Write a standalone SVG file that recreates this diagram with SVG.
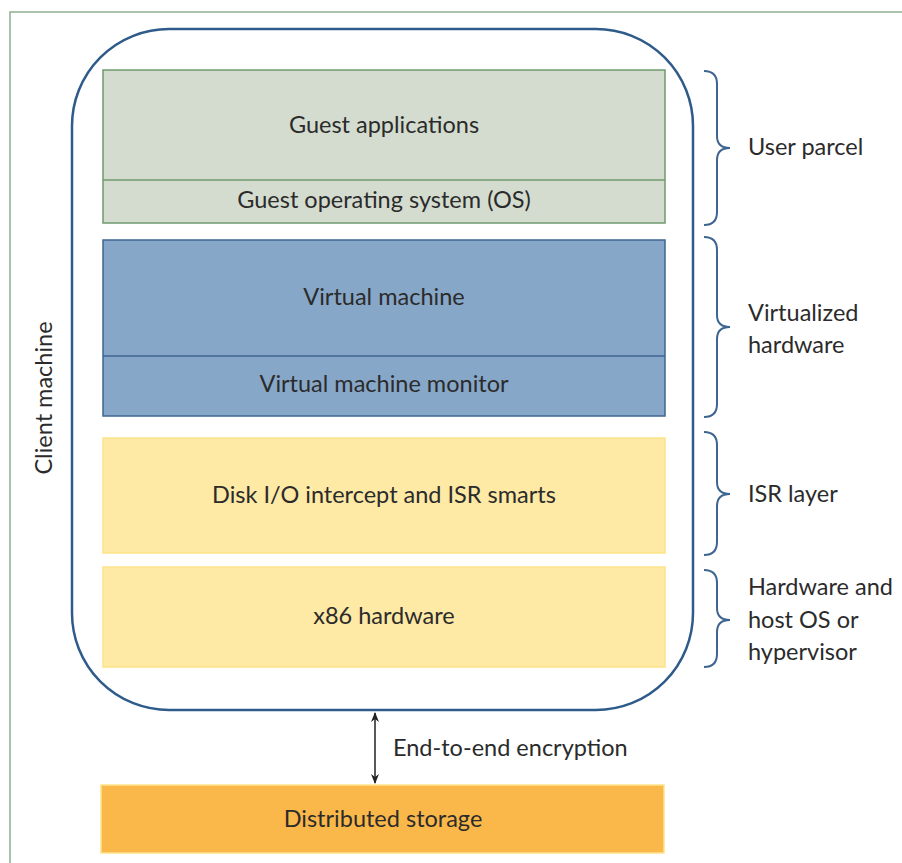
<svg xmlns="http://www.w3.org/2000/svg" width="902" height="863" viewBox="0 0 902 863">
<defs>
<style>
.t{font-family:Lato,"Liberation Sans",sans-serif;font-size:23.5px;fill:#2b2b2b}
.c{text-anchor:middle}
.br{fill:none;stroke:#3e6590;stroke-width:2}
.g{fill:#d4dccf;stroke:#6f9a6f;stroke-width:1.5}
.b{fill:#87a7c8;stroke:#3e6590;stroke-width:1.5}
.y{fill:#fee9a5;stroke:#fde38a;stroke-width:1.5}
</style>
<marker id="ah" viewBox="0 0 10 10" refX="9" refY="5" markerWidth="10" markerHeight="10" orient="auto-start-reverse" markerUnits="userSpaceOnUse">
<path d="M0,1 L10,5 L0,9 L3,5 Z" fill="#222"/>
</marker>
</defs>
<rect width="902" height="863" fill="#fff"/>
<path d="M10,863 V12 H902" fill="none" stroke="#8fae8f" stroke-width="1.5"/>
<g id="client">
<rect x="72" y="29" width="621" height="681" rx="97" ry="97" fill="none" stroke="#2f5b8a" stroke-width="2.5"/>
<text class="t c" transform="translate(52,398) rotate(-90)">Client machine</text>
</g>
<g id="guest">
<rect class="g" x="103" y="70" width="562" height="153"/>
<line x1="103" y1="180" x2="665" y2="180" stroke="#6f9a6f" stroke-width="1.5"/>
<text class="t c" x="384" y="133">Guest applications</text>
<text class="t c" x="384" y="208">Guest operating system (OS)</text>
</g>
<g id="vm">
<rect class="b" x="103" y="240" width="562" height="176"/>
<line x1="103" y1="356" x2="665" y2="356" stroke="#3e6590" stroke-width="1.5"/>
<text class="t c" x="384" y="305">Virtual machine</text>
<text class="t c" x="384" y="392">Virtual machine monitor</text>
</g>
<g id="isr">
<rect class="y" x="103" y="438" width="562" height="115"/>
<text class="t c" x="384" y="503">Disk I/O intercept and ISR smarts</text>
</g>
<g id="x86">
<rect class="y" x="103" y="567" width="562" height="100"/>
<text class="t c" x="384" y="624">x86 hardware</text>
</g>
<g id="storage">
<rect x="101" y="785" width="563" height="68" fill="#fbb84a" stroke="#fde38a" stroke-width="1.5"/>
<text class="t c" x="383" y="827">Distributed storage</text>
</g>
<g id="braces">
<path class="br" d="M704,71 Q717,71 717,84 V136 Q717,148 730,148 Q717,148 717,160 V212 Q717,225 704,225"/>
<path class="br" d="M704,237 Q717,237 717,250 V315 Q717,327 730,327 Q717,327 717,339 V404 Q717,417 704,417"/>
<path class="br" d="M704,432 Q717,432 717,445 V482 Q717,494 730,494 Q717,494 717,506 V542 Q717,555 704,555"/>
<path class="br" d="M704,570 Q717,570 717,583 V608 Q717,620 730,620 Q717,620 717,632 V654 Q717,667 704,667"/>
</g>
<g id="labels">
<text class="t" x="748" y="155">User parcel</text>
<text class="t" x="748" y="321">Virtualized</text>
<text class="t" x="748" y="353">hardware</text>
<text class="t" x="748" y="502">ISR layer</text>
<text class="t" x="748" y="595">Hardware and</text>
<text class="t" x="748" y="628">host OS or</text>
<text class="t" x="748" y="660">hypervisor</text>
</g>
<g id="connectors">
<line x1="375" y1="713" x2="375" y2="783" stroke="#222" stroke-width="1.5" marker-start="url(#ah)" marker-end="url(#ah)"/>
<text class="t" x="393" y="756">End-to-end encryption</text>
</g>
</svg>
